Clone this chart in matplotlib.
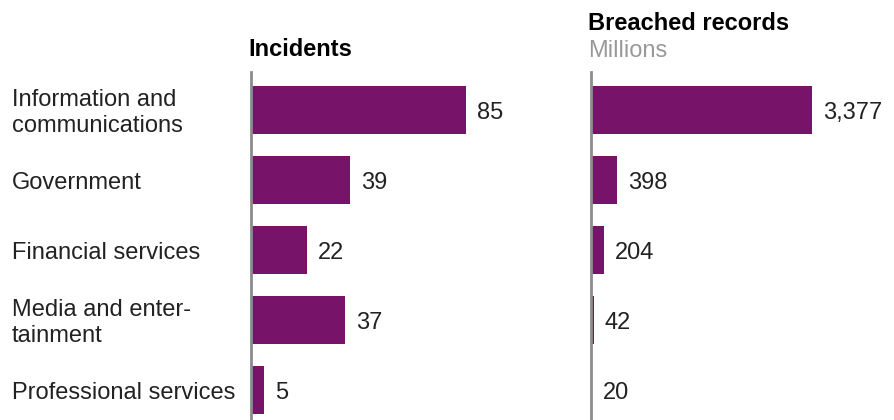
import matplotlib.pyplot as plt

categories = ["Information and\ncommunications", "Government", "Financial services",
              "Media and enter-\ntainment", "Professional services"]
incidents = [85, 39, 22, 37, 5]
records = [3377, 398, 204, 42, 20]

BAR = "#78136a"
SPINE = "#8c8c8c"
TXT = "#222222"
FS = 17


def main():
    plt.rcParams['font.family'] = ['Liberation Sans', 'DejaVu Sans']
    W, H = 894, 420
    fig = plt.figure(figsize=(W / 100, H / 100), dpi=100)

    # axes spans in pixels: top of spine at 72, bottom at figure edge
    top, bottom = 72, 420
    y0 = 1 - bottom / H
    h = (bottom - top) / H
    ax1 = fig.add_axes([251 / W, y0, 289 / W, h])
    ax2 = fig.add_axes([591 / W, y0, 303 / W, h])

    ypos = list(range(len(categories)))
    for ax, vals, xmax, fmt in [(ax1, incidents, 114.2, "{:d}"),
                                (ax2, records, 4633, "{:,}")]:
        ax.barh(ypos, vals, height=0.686, color=BAR, zorder=1)
        ax.set_xlim(0, xmax)
        ax.set_ylim(4.43, -0.543)
        for s in ["top", "right", "bottom"]:
            ax.spines[s].set_visible(False)
        ax.spines["left"].set_color(SPINE)
        ax.spines["left"].set_linewidth(2)
        ax.spines["left"].set_zorder(3)
        ax.set_xticks([])
        ax.set_yticks([])
        for y, v in zip(ypos, vals):
            ax.annotate(fmt.format(v), (v, y), xytext=(11, -3), textcoords="offset pixels",
                        va="center", ha="left", fontsize=FS, color=TXT)

    for y, c in zip(ypos, categories):
        ax1.annotate(c, (0, y), xycoords=("figure pixels", "data"), xytext=(12, -3),
                     textcoords="offset pixels", va="center", ha="left",
                     fontsize=FS, color=TXT, linespacing=1.25)

    fig.text(248 / W, 1 - 50 / H, "Incidents", fontsize=FS, fontweight="bold",
             color="black", va="center", ha="left")
    fig.text(588 / W, 1 - 23 / H, "Breached records", fontsize=FS, fontweight="bold",
             color="black", va="center", ha="left")
    fig.text(588 / W, 1 - 51 / H, "Millions", fontsize=FS, color="#999999",
             va="center", ha="left")

    fig.savefig("out.png", dpi=100)


if __name__ == "__main__":
    main()
